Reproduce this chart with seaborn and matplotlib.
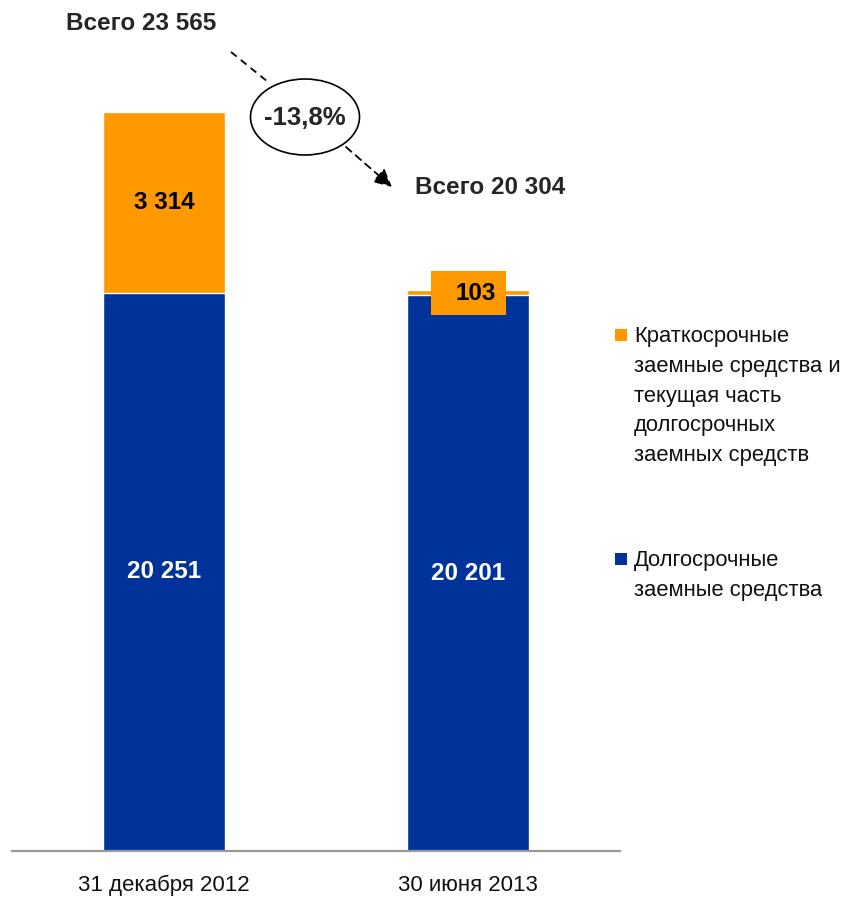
import matplotlib
matplotlib.use("Agg")
import matplotlib.pyplot as plt
import seaborn as sns
import pandas as pd
from matplotlib.patches import Ellipse, Rectangle
from matplotlib.lines import Line2D

# ---- data ----
categories = ["31 декабря 2012", "30 июня 2013"]
long_term = [20251, 20201]
short_term = [3314, 103]
long_labels = ["20 251", "20 201"]
short_labels = ["3 314", "103"]
total_labels = ["Всего 23 565", "Всего 20 304"]
change_label = "-13,8%"
legend_labels = ["Краткосрочные\nзаемные средства и\nтекущая часть\nдолгосрочных\nзаемных средств",
                 "Долгосрочные\nзаемные средства"]

ORANGE = "#FF9900"
BLUE = "#003399"

sns.set_style("white")
plt.rcParams["font.family"] = ["Liberation Sans", "DejaVu Sans"]

totals = [l + s for l, s in zip(long_term, short_term)]
df = pd.DataFrame({"cat": categories, "long": long_term, "total": totals})

W, H = 844, 897
fig = plt.figure(figsize=(W / 100, H / 100), dpi=100)


def fx(x):
    return x / W


def fy(y):
    return 1 - y / H


ax = fig.add_axes([fx(12), 46 / H, 608 / W, 851 / H])
sns.barplot(data=df, x="cat", y="total", color=ORANGE, saturation=1, width=0.4, ax=ax)
sns.barplot(data=df, x="cat", y="long", color=BLUE, saturation=1, width=0.4, ax=ax)

y0 = 10030
scale = 181 / 3314  # px per unit
ax.set_ylim(y0, y0 + 851 / scale)
ax.set_xlim(-0.5, 1.5)
ax.set_xlabel("")
ax.set_ylabel("")
ax.set_yticks([])
for s in ["left", "right", "top"]:
    ax.spines[s].set_visible(False)
ax.spines["bottom"].set_color("#999999")
ax.spines["bottom"].set_linewidth(1.6)
ax.tick_params(axis="x", length=0, pad=17, labelsize=16, labelcolor="#111111")

BOLD = dict(fontsize=17.5, fontweight="bold")

# value labels
for i in range(len(categories)):
    ax.text(i, (y0 + long_term[i]) / 2, long_labels[i], ha="center", va="center",
            color="white", **BOLD)

ax.text(0, (long_term[0] + totals[0]) / 2, short_labels[0], ha="center", va="center",
        color="black", **BOLD)

# small segment label with orange box
bw, bh = 75 / 304, 44 / scale
ax.add_patch(Rectangle((1 - bw / 2, totals[1] - 60 - bh / 2), bw, bh, facecolor=ORANGE,
                       edgecolor="none", zorder=5))
ax.text(1 + 8 / 304, totals[1] - 60, short_labels[1], ha="center", va="center",
        color="black", zorder=6, **BOLD)

# totals and change annotation
fig.text(fx(141), fy(24), total_labels[0], ha="center", va="center", **BOLD)
fig.text(fx(490), fy(187), total_labels[1], ha="center", va="center", **BOLD)

fig.add_artist(Ellipse((fx(305), fy(117)), 109 / W, 76 / H, transform=fig.transFigure,
                       facecolor="white", edgecolor="black", lw=1.2))
fig.text(fx(305), fy(118), change_label, ha="center", va="center",
         fontsize=18.5, fontweight="bold")

fig.add_artist(Line2D([fx(231), fx(268)], [fy(52), fy(82)], transform=fig.transFigure,
                      color="black", lw=1.3, linestyle=(0, (4, 3))))
ax.annotate("", xy=(fx(392), fy(187)), xytext=(fx(346), fy(147)),
            xycoords="figure fraction", textcoords="figure fraction",
            arrowprops=dict(arrowstyle="-|>,head_length=1.1,head_width=0.55",
                            color="black", lw=1.3, linestyle=(0, (4, 3)),
                            shrinkA=0, shrinkB=0))

# legend (manual)
leg_colors = [ORANGE, BLUE]
leg_tops = [335, 559]
for c, lab, yc in zip(leg_colors, legend_labels, leg_tops):
    fig.add_artist(Rectangle((fx(615), fy(yc + 6)), 12 / W, 12 / H, transform=fig.transFigure,
                             facecolor=c, edgecolor="none"))
    fig.text(fx(634), fy(yc - 9), lab, ha="left", va="top", fontsize=15.8,
             linespacing=1.55, color="#111111")

fig.savefig("out.png", dpi=100)
